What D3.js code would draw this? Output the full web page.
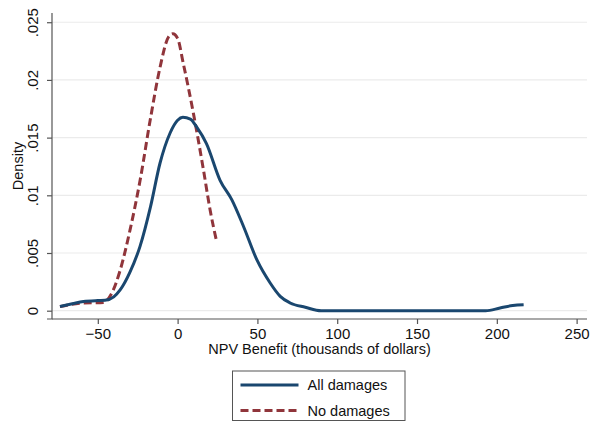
<!DOCTYPE html>
<html>
<head>
<meta charset="utf-8">
<script src="https://cdn.jsdelivr.net/npm/d3@7"></script>
<style>
    body { margin: 0; background: #fff; }
    #chart { width: 591px; height: 423px; }
    text { font-family: "Liberation Sans", Arial, Helvetica, sans-serif; fill: #111; }
</style>
</head>
<body>
<div id="chart"></div>
<script>
// 横轴: NPV Benefit (千美元)
const allDamagesX = [-73.7, -66, -59, -50, -45.5, -40, -36, -30, -23.5, -17, -11, -4.7, 0, 3.3, 8, 12, 18, 26.6, 34, 41.3, 49.7, 58, 64.3, 70.5, 80, 90, 120, 150, 180, 193, 202, 210, 216.8];
const allDamagesY = [.00037, .0006, .0008, .00088, .0009, .0012, .0018, .0033, .0056, .009, .0128, .0154, .0165, .01676, .0166, .0159, .0145, .0113, .0096, .0073, .0044, .0024, .00124, .00067, .0003, 0, 0, 0, 0, 0, .00023, .00045, .00052];

const noDamagesX = [-73.7, -59, -46.5, -41.3, -36, -29.8, -23.5, -17.2, -11, -5.8, -3, 0, 3.6, 9.9, 16.2, 20.4, 24.6];
const noDamagesY = [.00035, .00067, .00072, .0015, .0035, .007, .0113, .0165, .0211, .0237, .024, .0236, .0214, .0171, .0122, .0087, .0059];

const xTicks = [-50, 0, 50, 100, 150, 200, 250];
const yTicks = [0, .005, .01, .015, .02, .025];
const yTickLabels = ['0', '.005', '.01', '.015', '.02', '.025'];

const seriesNames = ['All damages', 'No damages'];

const container = document.getElementById('chart');
const dimensions = {
    width: 591,
    height: 423,
    margin: { top: 13, right: 4, bottom: 104, left: 52 }
};
dimensions.boundWidth = dimensions.width - dimensions.margin.left - dimensions.margin.right;
dimensions.boundHeight = dimensions.height - dimensions.margin.top - dimensions.margin.bottom;

const svg = d3.select(container)
    .append('svg')
    .attr('width', dimensions.width)
    .attr('height', dimensions.height);

const bounds = svg.append('g')
    .attr('transform', `translate(${dimensions.margin.left},${dimensions.margin.top})`);

const xScale = d3.scaleLinear().domain([-78.7, 256.5]).range([0, dimensions.boundWidth]);
const yScale = d3.scaleLinear().domain([-0.00072, 0.0258]).range([dimensions.boundHeight, 0]);

// 网格线
bounds.append('g')
    .selectAll('line')
    .data(yTicks)
    .join('line')
    .attr('x1', 0)
    .attr('x2', dimensions.boundWidth)
    .attr('y1', d => yScale(d))
    .attr('y2', d => yScale(d))
    .attr('stroke', '#ebebeb')
    .attr('stroke-width', 1.2);

// 曲线
const series = [
    { name: seriesNames[0], xs: allDamagesX, ys: allDamagesY, color: '#1a476f', dash: null },
    { name: seriesNames[1], xs: noDamagesX, ys: noDamagesY, color: '#90353b', dash: '8,4' }
];
const line = d3.line()
    .x(d => xScale(d[0]))
    .y(d => yScale(d[1]))
    .curve(d3.curveMonotoneX);

// 先画红色虚线，再画蓝线
[series[1], series[0]].forEach(s => {
    bounds.append('path')
        .datum(d3.zip(s.xs, s.ys))
        .attr('d', line)
        .attr('fill', 'none')
        .attr('stroke', s.color)
        .attr('stroke-width', 3)
        .attr('stroke-dasharray', s.dash)
        .attr('stroke-linejoin', 'round');
});

// 坐标轴
const xAxis = d3.axisBottom(xScale).tickValues(xTicks).tickSize(5).tickPadding(4).tickFormat(d3.format('d'));
const xAxisG = bounds.append('g')
    .attr('transform', `translate(0,${dimensions.boundHeight})`)
    .call(xAxis);
xAxisG.selectAll('text').style('font-size', '15px').attr('fill', '#111');

const yAxis = d3.axisLeft(yScale).tickValues(yTicks).tickSize(5).tickFormat((d, i) => yTickLabels[i]);
const yAxisG = bounds.append('g').call(yAxis);
yAxisG.selectAll('text')
    .style('font-size', '15px')
    .attr('fill', '#111')
    .attr('x', null)
    .attr('dy', null)
    .attr('text-anchor', 'middle')
    .attr('transform', 'translate(-14,0) rotate(-90)');

[xAxisG, yAxisG].forEach(g => {
    g.select('.domain').attr('stroke', '#555').attr('stroke-width', 1.2);
    g.selectAll('.tick line').attr('stroke', '#555').attr('stroke-width', 1.2);
});
yAxisG.select('.domain').attr('d', `M-5,${yScale(-0.00072)}H0V0`);
xAxisG.select('.domain').attr('d', `M0,0H${dimensions.boundWidth}`);

// 轴标题
svg.append('text')
    .attr('x', dimensions.margin.left + dimensions.boundWidth / 2)
    .attr('y', 354)
    .attr('text-anchor', 'middle')
    .style('font-size', '14.5px')
    .text('NPV Benefit (thousands of dollars)');

svg.append('text')
    .attr('transform', `translate(23,${dimensions.margin.top + dimensions.boundHeight / 2}) rotate(-90)`)
    .attr('text-anchor', 'middle')
    .style('font-size', '14.5px')
    .text('Density');

// 图例
const legend = svg.append('g').attr('transform', 'translate(232.5,371)');
legend.append('rect')
    .attr('width', 172.5)
    .attr('height', 49.5)
    .attr('fill', '#fff')
    .attr('stroke', '#555')
    .attr('stroke-width', 1);

series.forEach((s, i) => {
    const y = 14 + i * 25.5;
    legend.append('line')
        .attr('x1', 8)
        .attr('x2', 66)
        .attr('y1', y)
        .attr('y2', y)
        .attr('stroke', s.color)
        .attr('stroke-width', 3)
        .attr('stroke-dasharray', s.dash);
    legend.append('text')
        .attr('x', 75)
        .attr('y', y + 5)
        .style('font-size', '14.5px')
        .text(s.name);
});
</script>
</body>
</html>
